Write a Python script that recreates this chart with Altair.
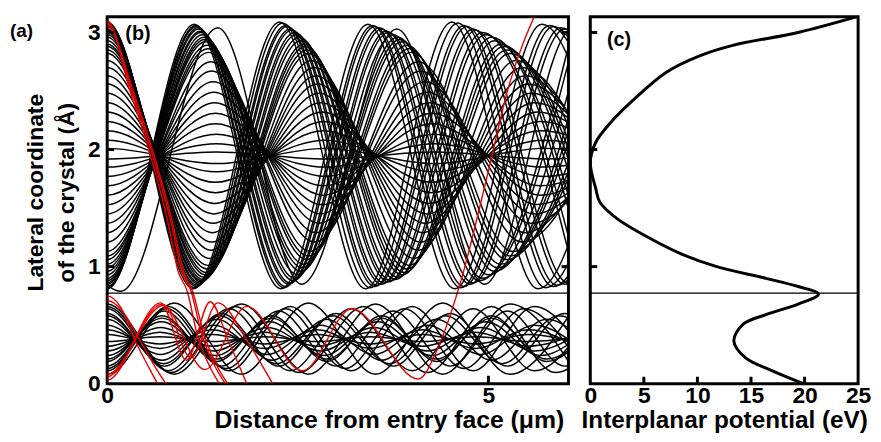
import altair as alt
import pandas as pd

# ---------------- axis ranges / ticks ----------------
X_MAX_B = 6.05          # distance (um) at right edge of panel (b)
Y_MAX = 3.135           # lateral coordinate (A) at top edge
V_MAX = 25              # potential (eV) at right edge of panel (c)
SEPARATRIX_Y = 0.773    # horizontal line (barrier top)
X_TICKS_B = [0, 5]
Y_TICKS = [0, 1, 2, 3]
X_TICKS_C = [0, 5, 10, 15, 20, 25]

# ---------------- upper-channel trajectories (black) ----------------
# start turning point, opposite turning point, half period (um)
UP_Y0 = [3.09, 3.08, 3.06, 3.05, 3.03, 3.02, 3.00, 2.98, 2.96, 2.93, 2.90, 2.88, 2.85, 2.82, 2.76, 2.70, 2.63,
         2.56, 2.48, 2.40, 2.32, 2.24, 2.16, 2.08, 2.01,
         1.92, 1.85, 1.77, 1.69, 1.61, 1.53, 1.45, 1.37, 1.29, 1.21, 1.13, 1.09, 1.06, 1.02, 0.99, 0.96, 0.93,
         0.90, 0.88, 0.86, 0.85, 0.83, 0.82, 0.81]
UP_Y1 = [0.81, 0.82, 0.83, 0.84, 0.85, 0.86, 0.87, 0.88, 0.89, 0.91, 0.93, 0.95, 0.98, 1.01, 1.07, 1.14, 1.21,
         1.29, 1.37, 1.45, 1.54, 1.63, 1.72, 1.81, 1.88,
         1.98, 2.05, 2.13, 2.22, 2.31, 2.40, 2.49, 2.58, 2.67, 2.75, 2.83, 2.86, 2.89, 2.92, 2.94, 2.96, 2.98,
         3.00, 3.01, 3.03, 3.04, 3.05, 3.06, 3.07]
UP_HALF = [1.13, 1.15, 1.17, 1.18, 1.20, 1.21, 1.23, 1.24, 1.26, 1.27, 1.29, 1.30, 1.31, 1.32, 1.34, 1.36, 1.37,
           1.38, 1.39, 1.40, 1.41, 1.42, 1.42, 1.43, 1.43,
           1.43, 1.43, 1.43, 1.42, 1.42, 1.41, 1.40, 1.39, 1.37, 1.36, 1.33, 1.32, 1.31, 1.29, 1.28, 1.27, 1.25,
           1.23, 1.22, 1.20, 1.19, 1.17, 1.16, 1.14]

# one trajectory not starting at a turning point
ODD_X = [-1.2, 0.18, 1.45, 2.55, 3.80, 4.95, 6.10, 7.25]
ODD_Y = [3.03, 0.79, 3.04, 0.85, 3.03, 0.85, 3.03, 0.85]

# ---------------- lower-channel trajectories (black) ----------------
LO_Y0 = [0.68, 0.66, 0.64, 0.60, 0.58, 0.55, 0.50, 0.46, 0.42, 0.36, 0.32, 0.28, 0.24, 0.21, 0.19, 0.15, 0.13,
         0.11, 0.08]
LO_Y1 = [0.08, 0.095, 0.11, 0.15, 0.17, 0.20, 0.25, 0.30, 0.34, 0.40, 0.44, 0.48, 0.53, 0.56, 0.58, 0.62, 0.64,
         0.66, 0.69]
LO_HALF = [0.88, 0.84, 0.80, 0.75, 0.74, 0.72, 0.70, 0.69, 0.69, 0.69, 0.69, 0.70, 0.71, 0.72, 0.72, 0.75, 0.78,
           0.80, 0.88]

# ---------------- dechanneled trajectories (red) ----------------
RED1_X = [-0.6, 0.00, 0.30, 0.57, 0.80, 0.93, 1.05, 1.18, 1.35, 1.47]
RED1_Y = [2.40, 3.10, 2.50, 1.94, 1.37, 0.96, 0.79, 0.42, 0.14, 0.00]
RED2_X = [-0.6, 0.00, 0.32, 0.60, 0.84, 0.98, 1.10, 1.24, 1.42, 1.55]
RED2_Y = [2.40, 3.08, 2.50, 1.94, 1.37, 0.96, 0.79, 0.42, 0.14, 0.00]
RED3_X = [-0.6, 0.00, 0.34, 0.62, 0.86, 1.00, 1.12, 1.27, 1.45, 1.58]
RED3_Y = [2.40, 3.05, 2.50, 1.94, 1.37, 0.96, 0.79, 0.42, 0.14, 0.00]
RED4_X = [-0.3, 0.00, 0.18, 0.35, 0.57, 0.66]
RED4_Y = [0.40, 0.75, 0.65, 0.39, 0.11, 0.00]
RED5_X = [-0.3, 0.00, 0.20, 0.42, 0.65, 0.77]
RED5_Y = [0.40, 0.71, 0.62, 0.38, 0.12, 0.00]
RED6_X = [-0.7, 0.00, 0.72, 1.28, 1.83, 2.56, 3.21, 4.08, 4.34, 4.64, 4.99, 5.25, 5.68]
RED6_Y = [0.68, 0.06, 0.68, 0.12, 0.66, 0.11, 0.64, 0.04, 0.31, 0.88, 1.79, 2.50, 3.25]
RED7_X = [-0.7, 0.00, 0.70, 1.04, 1.35, 1.60, 1.83]
RED7_Y = [0.69, 0.03, 0.69, 0.20, 0.70, 0.35, 0.00]
RED8_X = [-0.7, 0.00, 0.74, 1.10, 1.45, 1.85, 2.17]
RED8_Y = [0.67, 0.08, 0.67, 0.22, 0.69, 0.35, 0.00]

# ---------------- interplanar potential (panel c) ----------------
POT_Y = [3.135, 3.00, 2.89, 2.80, 2.66, 2.43, 2.23, 2.06, 1.89, 1.67, 1.55, 1.41, 1.24, 1.10, 1.00,
         0.90, 0.83, 0.765, 0.68, 0.59, 0.51, 0.365, 0.22, 0.11, 0.00]
POT_V = [24.9, 19.4, 13.3, 10.2, 7.1, 4.1, 1.9, 0.5, 0.0, 0.5, 0.9, 2.5, 5.6, 8.7, 11.8,
         16.4, 19.4, 21.3, 19.4, 16.4, 14.3, 13.4, 14.5, 17.0, 19.9]

FONT = "Liberation Sans"
RED = "#e60000"

# ---------------- build tables ----------------
def turning_rows(prefix, y0s, y1s, halves):
    rows = []
    for i, (a, b, h) in enumerate(zip(y0s, y1s, halves)):
        k = -1  # one turning point before the entry face keeps zero slope at x = 0
        while True:
            x = k * h
            rows.append({"id": f"{prefix}{i}", "x": x, "y": a if k % 2 == 0 else b})
            if x > X_MAX_B:
                break
            k += 1
    return rows

black_rows = turning_rows("u", UP_Y0, UP_Y1, UP_HALF) + turning_rows("l", LO_Y0, LO_Y1, LO_HALF)
black_rows += [{"id": "odd", "x": x, "y": y} for x, y in zip(ODD_X, ODD_Y)]
black_df = pd.DataFrame(black_rows)

red_sets = [(RED1_X, RED1_Y), (RED2_X, RED2_Y), (RED3_X, RED3_Y), (RED4_X, RED4_Y),
            (RED5_X, RED5_Y), (RED6_X, RED6_Y), (RED7_X, RED7_Y), (RED8_X, RED8_Y)]
red_df = pd.DataFrame([{"id": f"r{i}", "x": x, "y": y}
                       for i, (xs, ys) in enumerate(red_sets) for x, y in zip(xs, ys)])

pot_df = pd.DataFrame({"i": list(range(len(POT_V))), "v": POT_V, "y": POT_Y})
sep_df = pd.DataFrame({"y": [SEPARATRIX_Y]})

xs_b = alt.Scale(domain=[0, X_MAX_B], nice=False, zero=False)
ys = alt.Scale(domain=[0, Y_MAX], nice=False, zero=False)
xs_c = alt.Scale(domain=[0, V_MAX], nice=False, zero=False)

W_B, W_C, H = 465, 270, 370

lab = dict(labelFont=FONT, labelFontSize=23, labelFontWeight="bold", labelColor="black",
           tickSize=0, ticks=False, domain=False, grid=False, labelFlush=False)
tit = dict(titleFont=FONT, titleFontWeight="bold", titleColor="black")

x_axis_b = alt.Axis(values=X_TICKS_B, format="d", labelPadding=19, labelBaseline="alphabetic",
                    title="Distance from entry face (μm)", titleFontSize=25, titleX=284, titleY=44,
                    titleBaseline="alphabetic", titleAlign="center", **lab, **tit)
y_axis_b = alt.Axis(values=Y_TICKS, format="d", labelPadding=7, labelBaseline="middle",
                    title=["Lateral coordinate", "of the crystal (Å)"], titleFontSize=23,
                    titleX=-65, titleY=177, titleAngle=-90, titleAlign="center",
                    titleBaseline="alphabetic", titleLineHeight=31, **lab, **tit)
x_axis_c = alt.Axis(values=X_TICKS_C, format="d", labelPadding=19, labelBaseline="alphabetic",
                    title="Interplanar potential (eV)", titleFontSize=24.5, titleY=44,
                    titleBaseline="alphabetic", titleAlign="center", **lab, **tit)

# ---------------- panel (b) ----------------
black = alt.Chart(black_df).mark_line(color="black", strokeWidth=1.5, interpolate="monotone", clip=True).encode(
    x=alt.X("x:Q", scale=xs_b, axis=x_axis_b),
    y=alt.Y("y:Q", scale=ys, axis=y_axis_b),
    detail="id:N",
)
red = alt.Chart(red_df).mark_line(color=RED, strokeWidth=1.4, interpolate="monotone", clip=True).encode(
    x=alt.X("x:Q", scale=xs_b),
    y=alt.Y("y:Q", scale=ys),
    detail="id:N",
)
sep_b = alt.Chart(sep_df).mark_rule(color="black", strokeWidth=1.3).encode(
    y=alt.Y("y:Q", scale=ys), x=alt.value(0), x2=alt.value(W_B))

ytick_df = pd.DataFrame({"y": [1, 2, 3]})
ticks_bl = alt.Chart(ytick_df).mark_rule(color="black", strokeWidth=3).encode(
    y=alt.Y("y:Q", scale=ys), x=alt.value(0), x2=alt.value(7))
ticks_br = alt.Chart(ytick_df).mark_rule(color="black", strokeWidth=3).encode(
    y=alt.Y("y:Q", scale=ys), x=alt.value(W_B), x2=alt.value(W_B - 7))
ticks_bb = alt.Chart(pd.DataFrame({"x": [5]})).mark_rule(color="black", strokeWidth=3).encode(
    x=alt.X("x:Q", scale=xs_b), y=alt.value(H), y2=alt.value(H - 8))

lbl_b = alt.Chart(pd.DataFrame({"t": ["(b)"]})).mark_text(
    font=FONT, fontSize=20, fontWeight="bold", color="black", align="center", baseline="middle"
).encode(text="t:N", x=alt.value(31), y=alt.value(18))
lbl_a = alt.Chart(pd.DataFrame({"t": ["(a)"]})).mark_text(
    font=FONT, fontSize=19, fontWeight="bold", color="black", align="left", baseline="middle"
).encode(text="t:N", x=alt.value(-98), y=alt.value(14))

panel_b = alt.layer(black, red, sep_b, ticks_bl, ticks_br, ticks_bb, lbl_b, lbl_a).properties(
    width=W_B, height=H)

# ---------------- panel (c) ----------------
pot = alt.Chart(pot_df).mark_line(color="black", strokeWidth=3, interpolate="catmull-rom", clip=True).encode(
    x=alt.X("v:Q", scale=xs_c, axis=x_axis_c),
    y=alt.Y("y:Q", scale=ys, axis=None),
    order="i:Q",
)
sep_c = alt.Chart(sep_df).mark_rule(color="black", strokeWidth=1.3).encode(
    y=alt.Y("y:Q", scale=ys, axis=None), x=alt.value(0), x2=alt.value(W_C))
ticks_cl = alt.Chart(ytick_df).mark_rule(color="black", strokeWidth=3).encode(
    y=alt.Y("y:Q", scale=ys, axis=None), x=alt.value(0), x2=alt.value(7))
ticks_cb = alt.Chart(pd.DataFrame({"v": [5, 10, 15, 20]})).mark_rule(color="black", strokeWidth=3).encode(
    x=alt.X("v:Q", scale=xs_c), y=alt.value(H), y2=alt.value(H - 7))
lbl_c = alt.Chart(pd.DataFrame({"t": ["(c)"]})).mark_text(
    font=FONT, fontSize=20, fontWeight="bold", color="black", align="center", baseline="middle"
).encode(text="t:N", x=alt.value(29), y=alt.value(24))

panel_c = alt.layer(pot, sep_c, ticks_cl, ticks_cb, lbl_c).properties(width=W_C, height=H)

chart = alt.hconcat(panel_b, panel_c, spacing=22, bounds="flush").properties(
    padding={"left": 0, "top": 5, "right": 0, "bottom": 0},
    background="white",
).configure_view(stroke="black", strokeWidth=3)

chart.save("out.html", embed_options={"renderer": "svg", "actions": False})
